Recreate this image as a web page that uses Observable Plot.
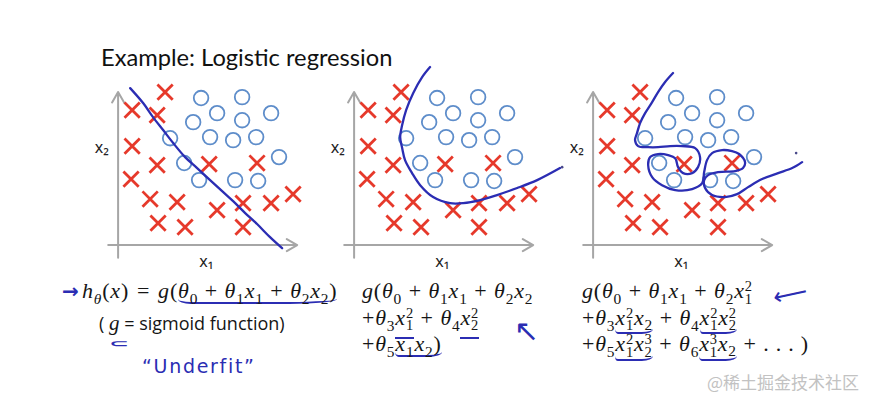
<!DOCTYPE html>
<html><head><meta charset="utf-8">
<script src="https://cdn.jsdelivr.net/npm/d3@7"></script>
<script src="https://cdn.jsdelivr.net/npm/@observablehq/plot@0.6"></script>
<style>
html,body{margin:0;padding:0;background:#fff}
#slide{position:relative;width:880px;height:405px;overflow:hidden;background:#fff}
.panel{position:absolute}
.panel svg{overflow:visible;display:block}
#title{position:absolute;left:101px;top:43px;font-family:Lato,"Open Sans",sans-serif;font-size:23.7px;color:#111;white-space:nowrap}
.math{position:absolute;font-family:"Liberation Serif","DejaVu Serif",serif;font-size:22px;line-height:26.5px;letter-spacing:0.8px;color:#151515;white-space:nowrap}
.math .ln{height:26.5px}
.math sub{font-size:0.7em;vertical-align:-0.36em;line-height:0}
.ss{display:inline-block;font-size:0.66em;line-height:0.84em;vertical-align:-0.38em}
.ss span{display:block}
.bin{margin:0 0.3em}
.rel{margin:0 0.36em}
.ul{display:inline-block;border-bottom:2px solid #2b2db3;padding-bottom:1px;line-height:20px;border-radius:0 0 30% 8% / 0 0 5px 5px}
.hand{position:absolute;color:#2b2db3;white-space:nowrap}
#sig{position:absolute;left:99px;top:311px;font-family:"Open Sans",sans-serif;font-size:18px;color:#151515;white-space:nowrap}
#sig i{font-family:"Liberation Serif",serif;font-size:21px}
#wm{position:absolute;left:707px;top:369px;font-family:"Noto Sans CJK SC",sans-serif;font-size:17px;color:#c2c2c2;white-space:nowrap}
</style></head>
<body>
<div id="slide">
  <div class="panel" id="p1"></div>
  <div class="panel" id="p2"></div>
  <div class="panel" id="p3"></div>
  <div id="title">Example: Logistic regression</div>

  <div class="hand" style="left:62px;top:279px;font-family:'DejaVu Sans',sans-serif;font-size:20px;font-weight:bold">→</div>
  <div class="math" style="left:82px;top:278px">
    <div class="ln"><i>h</i><sub><i>θ</i></sub>(<i>x</i>)<span class="rel">=</span><i>g</i>(<span class="ul"><i>θ</i><sub>0</sub><span class="bin">+</span><i>θ</i><sub>1</sub><i>x</i><sub>1</sub><span class="bin">+</span><i>θ</i><sub>2</sub><i>x</i><sub>2</sub>)</span></div>
  </div>
  <div id="sig">( <i>g</i> = sigmoid function)</div>
  <div class="hand" style="left:109px;top:330px;font-family:'DejaVu Sans',sans-serif;font-size:24px;font-weight:bold;transform:scaleY(0.42)">⊂</div>
  <div class="hand" style="left:142px;top:355px;font-family:'DejaVu Sans',sans-serif;font-size:19px;letter-spacing:1.7px">“Underfit”</div>

  <div class="math" style="left:362px;top:278px">
    <div class="ln"><i>g</i>(<i>θ</i><sub>0</sub><span class="bin">+</span><i>θ</i><sub>1</sub><i>x</i><sub>1</sub><span class="bin">+</span><i>θ</i><sub>2</sub><i>x</i><sub>2</sub></div>
    <div class="ln">+<i>θ</i><sub>3</sub><span class="ul" style="padding-bottom:6px;border-radius:0"><i>x</i><span class="ss"><span>2</span><span>1</span></span></span><span class="bin">+</span><i>θ</i><sub>4</sub><span class="ul" style="padding-bottom:6px;border-radius:0"><i>x</i><span class="ss"><span>2</span><span>2</span></span></span></div>
    <div class="ln">+<i>θ</i><sub>5</sub><span class="ul"><i>x</i><sub>1</sub><i>x</i><sub>2</sub>)</span></div>
  </div>
  <div class="hand" style="left:514px;top:313px;font-family:'DejaVu Sans',sans-serif;font-size:30px">↖</div>

  <div class="math" style="left:582px;top:278px">
    <div class="ln"><i>g</i>(<i>θ</i><sub>0</sub><span class="bin">+</span><i>θ</i><sub>1</sub><i>x</i><sub>1</sub><span class="bin">+</span><i>θ</i><sub>2</sub><i>x</i><span class="ss"><span>2</span><span>1</span></span></div>
    <div class="ln">+<i>θ</i><sub>3</sub><span class="ul"><i>x</i><span class="ss"><span>2</span><span>1</span></span><i>x</i><sub>2</sub></span><span class="bin">+</span><i>θ</i><sub>4</sub><span class="ul"><i>x</i><span class="ss"><span>2</span><span>1</span></span><i>x</i><span class="ss"><span>2</span><span>2</span></span></span></div>
    <div class="ln">+<i>θ</i><sub>5</sub><span class="ul"><i>x</i><span class="ss"><span>2</span><span>1</span></span><i>x</i><span class="ss"><span>3</span><span>2</span></span></span><span class="bin">+</span><i>θ</i><sub>6</sub><span class="ul"><i>x</i><span class="ss"><span>3</span><span>1</span></span><i>x</i><sub>2</sub></span><span class="bin">+</span><span style="letter-spacing:7px">...</span>)</div>
  </div>
  <div class="hand" style="left:773px;top:280px;font-family:'DejaVu Sans',sans-serif;font-size:24px;transform:rotate(-12deg)">⟵</div>

  <div id="wm">@稀土掘金技术社区</div>
</div>
<script>
// ---- data (x1, x2 in feature units) ----
const crossX1 = [2.61, 0.78, 2.17, 0.78, 2.17, 5.06, 7.72, 0.72, 1.78, 3.28, 5.5, 6.94, 8.5, 9.72, 2.22, 3.72, 6.94];
const crossX2 = [8.5, 7.5, 7.22, 5.5, 4.44, 4.5, 4.56, 3.67, 2.56, 2.39, 1.94, 2.33, 2.33, 2.83, 1.22, 1.0, 1.0];
const circleX1 = [4.61, 6.89, 5.5, 6.89, 8.5, 4.17, 2.89, 5.11, 6.39, 7.67, 8.94, 3.67, 4.5, 6.5, 7.78];
const circleX2 = [8.17, 8.22, 7.33, 6.94, 7.33, 6.83, 5.94, 6.0, 5.83, 6.0, 4.89, 4.56, 3.61, 3.61, 3.56];

const linearX1 = [0.67, 1.39, 1.94, 2.5, 3.06, 3.72, 4.39, 5.11, 5.78, 6.39, 7.06, 7.72, 8.44, 9.11];
const linearX2 = [8.72, 7.89, 7.11, 6.39, 5.67, 4.89, 4.28, 3.61, 3.0, 2.44, 1.78, 1.17, 0.44, -0.17];

const quadX1 = [4.22, 3.78, 3.28, 2.89, 2.67, 2.56, 2.67, 2.83, 3.22, 3.67, 4.39, 5.33, 6.06, 7.0, 7.94, 9.06, 10.17, 11.44];
const quadX2 = [9.89, 9.33, 8.44, 7.5, 6.67, 6.0, 5.39, 4.72, 4.0, 3.33, 2.67, 2.33, 2.33, 2.5, 2.78, 3.17, 3.61, 4.28];

const highX1 = [4.44, 4.0, 3.61, 3.28, 2.89, 2.61, 2.44, 2.33, 2.5, 3.06, 3.61, 4.28, 4.94, 5.67, 5.94, 5.83, 5.5, 5.0, 4.72, 4.56, 4.17, 3.61, 3.17, 3.06, 3.28, 3.83, 4.56, 5.5, 6.06, 6.17, 6.33, 6.61, 7.17, 7.72, 8.11, 8.44, 8.33, 7.89, 6.94, 6.39, 6.17, 6.22, 6.61, 7.33, 8.0, 8.61, 9.39, 10.28, 11.06, 11.61];
const highX2 = [9.56, 9.06, 8.5, 7.94, 7.33, 6.78, 6.22, 5.83, 5.5, 5.44, 5.44, 5.5, 5.5, 5.39, 4.89, 4.33, 4.0, 4.0, 4.33, 4.83, 5.0, 5.06, 4.89, 4.44, 3.78, 3.33, 3.06, 3.11, 3.44, 4.06, 4.72, 5.11, 5.28, 5.22, 5.06, 4.61, 4.28, 4.11, 4.06, 3.89, 3.61, 3.17, 2.78, 2.67, 2.83, 3.22, 3.67, 4.0, 4.28, 4.61];

const strayX1 = [-1.72, 11.28];
const strayX2 = [4.33, 5.11];

const axisNames = ["x₁", "x₂"];

// ---- build tables ----
const zip = (a, b) => a.map((v, i) => ({x1: v, x2: b[i]}));
const crosses = zip(crossX1, crossX2);
const circles = zip(circleX1, circleX2);
const boundaries = [zip(linearX1, linearX2), zip(quadX1, quadX2), zip(highX1, highX2)];
const strays = zip(strayX1, strayX2);

const UNIT = 18, W = 250, H = 230, X0 = -2.2, Y0 = -1.8;
const axes = [
  {x1: -0.55, y1: 0, x2: 9.95, y2: 0},
  {x1: 0, y1: -0.7, x2: 0, y2: 8.5}
];
const labels = [
  {x: 4.9, y: -0.95, t: axisNames[0]},
  {x: -0.9, y: 5.4, t: axisNames[1]}
];

function panel(boundary, extra) {
  return Plot.plot({
    width: W, height: H, margin: 0,
    x: {domain: [X0, X0 + W / UNIT], axis: null},
    y: {domain: [Y0, Y0 + H / UNIT], axis: null},
    style: {background: "transparent", overflow: "visible"},
    marks: [
      Plot.arrow(axes, {x1: "x1", y1: "y1", x2: "x2", y2: "y2", stroke: "#a6a6a6", strokeWidth: 2, headLength: 9}),
      Plot.text(labels, {x: "x", y: "y", text: "t", fontSize: 16, fontFamily: "Noto Sans", fill: "#222"}),
      Plot.dot(crosses, {x: "x1", y: "x2", symbol: "times", r: 7, stroke: "#e6392b", strokeWidth: 2.8, fill: "none"}),
      Plot.dot(circles, {x: "x1", y: "x2", r: 7.3, stroke: "#5e8dca", strokeWidth: 1.8, fill: "none"}),
      Plot.line(boundary, {x: "x1", y: "x2", stroke: "#2b2db3", strokeWidth: 2.3, curve: "catmull-rom"}),
      ...(extra ? [Plot.dot(extra, {x: "x1", y: "x2", r: 1.3, fill: "#4a4a8a", stroke: "none"})] : [])
    ]
  });
}

const originPageX = [118, 354, 593], originPageY = 245;
["p1", "p2", "p3"].forEach((id, i) => {
  const el = document.getElementById(id);
  el.style.left = (originPageX[i] + X0 * UNIT) + "px";
  el.style.top = (originPageY - (H + Y0 * UNIT)) + "px";
  el.appendChild(panel(boundaries[i], i === 2 ? strays : null));
});
</script>
</body></html>
